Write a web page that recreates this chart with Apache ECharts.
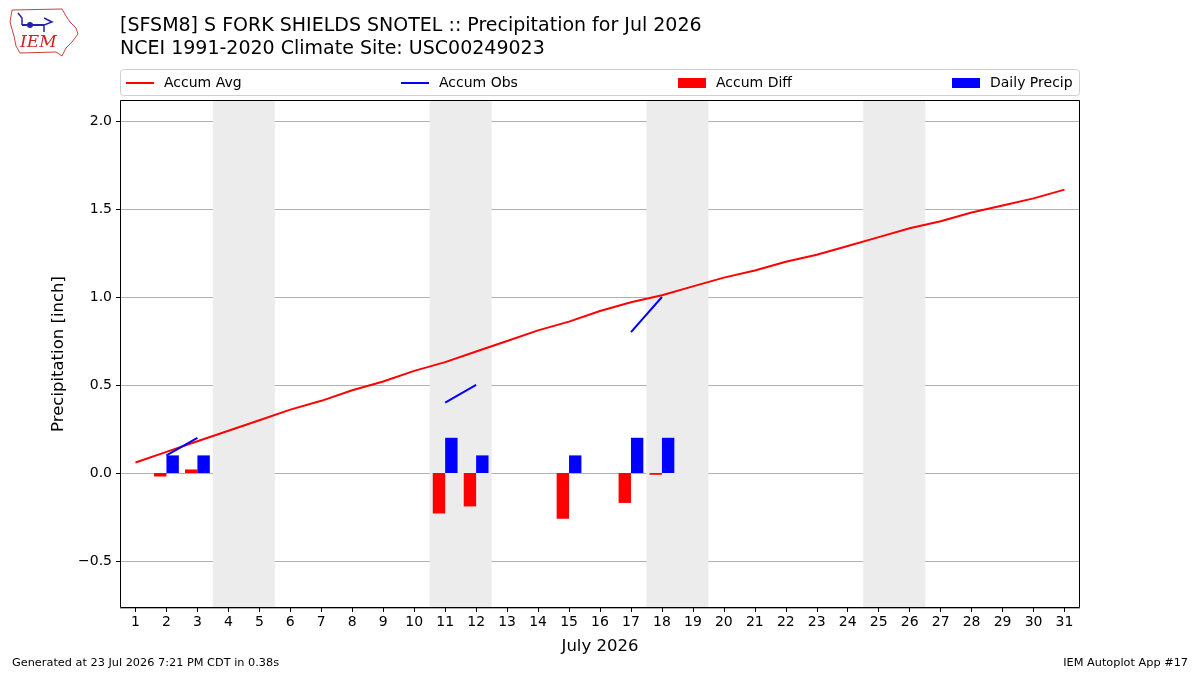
<!DOCTYPE html>
<html>
<head>
<meta charset="utf-8">
<script src="https://cdn.jsdelivr.net/npm/echarts@6/dist/echarts.min.js"></script>
<style>
html,body{margin:0;padding:0;background:#fff;}
#chart{width:1200px;height:675px;}
</style>
</head>
<body>
<div id="chart"></div>
<script>
// ---- data ----
const days = ['1','2','3','4','5','6','7','8','9','10','11','12','13','14','15','16','17','18','19','20','21','22','23','24','25','26','27','28','29','30','31'];
const accumAvg = [0.06,0.12,0.18,0.24,0.30,0.36,0.41,0.47,0.52,0.58,0.63,0.69,0.75,0.81,0.86,0.92,0.97,1.01,1.06,1.11,1.15,1.20,1.24,1.29,1.34,1.39,1.43,1.48,1.52,1.56,1.61];
const accumObs = [null,0.10,0.20,null,null,null,null,null,null,null,0.40,0.50,null,null,0.60,null,0.80,1.00,null,null,null,null,null,null,null,null,null,null,null,null,null];
const accumDiff = [null,-0.02,0.02,null,null,null,null,null,null,null,-0.23,-0.19,null,null,-0.26,null,-0.17,-0.01,null,null,null,null,null,null,null,null,null,null,null,null,null];
const dailyPrecip = [null,0.10,0.10,null,null,null,null,null,null,null,0.20,0.10,null,null,0.10,null,0.20,0.20,null,null,null,null,null,null,null,null,null,null,null,null,null];
const weekends = [[3.5,5.5],[10.5,12.5],[17.5,19.5],[24.5,26.5]];
const titleText = '[SFSM8] S FORK SHIELDS SNOTEL :: Precipitation for Jul 2026\nNCEI 1991-2020 Climate Site: USC00249023';

const FONT = 'DejaVu Sans';
const chart = echarts.init(document.getElementById('chart'), null, {renderer:'canvas'});

const legendCommon = {
  top: 76, padding: 0, itemWidth: 28, itemHeight: 10,
  textStyle: {fontFamily: FONT, fontSize: 14, color: '#000', padding: [0,0,0,5]},
  selectedMode: false
};
const lineIcon = 'path://M0,0 L28,0 L28,2 L0,2 Z';

const option = {
  animation: false,
  backgroundColor: '#fff',
  textStyle: {fontFamily: FONT},
  title: {
    text: titleText, left: 120, top: 15, padding: 0,
    textStyle: {fontFamily: FONT, fontSize: 19, fontWeight: 'normal', color: '#000', lineHeight: 23}
  },
  legend: [
    Object.assign({}, legendCommon, {left: 126, data: [{name: 'Accum Avg', icon: lineIcon}]}),
    Object.assign({}, legendCommon, {left: 401, data: [{name: 'Accum Obs', icon: lineIcon}]}),
    Object.assign({}, legendCommon, {left: 678, data: [{name: 'Accum Diff', icon: 'rect'}]}),
    Object.assign({}, legendCommon, {left: 952, data: [{name: 'Daily Precip', icon: 'rect'}]})
  ],
  grid: {left: 120, right: 120, top: 100, bottom: 67, show: false, containLabel: false},
  xAxis: [{
    type: 'category', data: days, boundaryGap: true,
    axisLine: {show: false, onZero: false},
    axisTick: {show: true, alignWithLabel: true, length: 4, lineStyle: {color: '#000'}},
    axisLabel: {interval: 0, color: '#000', fontFamily: FONT, fontSize: 14, margin: 7},
    splitLine: {show: false},
    name: 'July 2026', nameLocation: 'middle', nameGap: 30,
    nameTextStyle: {fontFamily: FONT, fontSize: 16.5, color: '#000'}
  }, {
    type: 'value', min: 0.5, max: 31.5, show: false
  }],
  yAxis: {
    type: 'value', min: -0.767, max: 2.119, splitNumber: 5,
    axisLine: {show: false},
    axisTick: {show: true, length: 4, lineStyle: {color: '#000'}},
    axisLabel: {color: '#000', fontFamily: FONT, fontSize: 14, margin: 8, showMinLabel: false, showMaxLabel: false,
      formatter: v => (v < 0 ? '\u2212' + Math.abs(v).toFixed(1) : v.toFixed(1))},
    splitLine: {show: true, lineStyle: {color: '#b0b0b0', width: 1}},
    name: 'Precipitation [inch]', nameLocation: 'middle', nameGap: 48,
    nameTextStyle: {fontFamily: FONT, fontSize: 16.5, color: '#000'}
  },
  series: [
    {
      name: 'shade', type: 'line', xAxisIndex: 1, data: [], z: -1, silent: true,
      markArea: {silent: true, itemStyle: {color: '#ececec'}, data: weekends.map(w => [{xAxis: w[0]}, {xAxis: w[1]}])}
    },
    {name: 'Accum Diff', type: 'bar', data: accumDiff, barWidth: '40%', barGap: '0%', itemStyle: {color: '#ff0000'}, z: 3},
    {name: 'Daily Precip', type: 'bar', data: dailyPrecip, barWidth: '40%', barGap: '0%', itemStyle: {color: '#0000ff'}, z: 3},
    {name: 'Accum Avg', type: 'line', data: accumAvg, symbol: 'none', lineStyle: {color: '#ff0000', width: 2}, itemStyle: {color: '#ff0000'}, z: 4},
    {name: 'Accum Obs', type: 'line', data: accumObs, symbol: 'none', connectNulls: false, lineStyle: {color: '#0000ff', width: 2}, itemStyle: {color: '#0000ff'}, z: 5}
  ],
  graphic: [
    {type: 'rect', z: -10, shape: {x: 120.5, y: 69.5, width: 959, height: 26, r: 3}, style: {fill: '#fff', stroke: '#d0d0d0', lineWidth: 1}},
    {type: 'rect', z: 100, silent: true, shape: {x: 120.5, y: 100.5, width: 959, height: 507}, style: {fill: null, stroke: '#000', lineWidth: 1}},
    {type: 'text', left: 12, top: 658, style: {text: 'Generated at 23 Jul 2026 7:21 PM CDT in 0.38s', font: '11.3px "DejaVu Sans"', fill: '#000'}},
    {type: 'text', right: 12, top: 658, style: {text: 'IEM Autoplot App #17', font: '11.3px "DejaVu Sans"', fill: '#000'}},
    // logo approximation
    {type: 'polyline', shape: {points: [[12,10],[62,9],[66,16],[70,22],[76,28],[78,34],[72,42],[66,48],[62,56],[56,52],[20,53],[16,46],[14,36],[10,22],[12,10]]}, style: {stroke: '#d04040', fill: null, lineWidth: 1}},
    {type: 'text', x: 20, y: 34, style: {text: 'IEM', font: 'italic 17px "DejaVu Serif"', fill: '#cc2222'}},
    {type: 'polyline', shape: {points: [[22,25],[44,25]]}, style: {stroke: '#2222aa', lineWidth: 2}},
    {type: 'polyline', shape: {points: [[18,13],[22,18],[22,25]]}, style: {stroke: '#2222aa', lineWidth: 1.5}},
    {type: 'polyline', shape: {points: [[44,18],[52,22],[44,25],[44,32]]}, style: {stroke: '#2222aa', lineWidth: 1.5}},
    {type: 'circle', shape: {cx: 30, cy: 25, r: 3}, style: {fill: '#2222aa'}}
  ]
};
chart.setOption(option);
</script>
</body>
</html>
